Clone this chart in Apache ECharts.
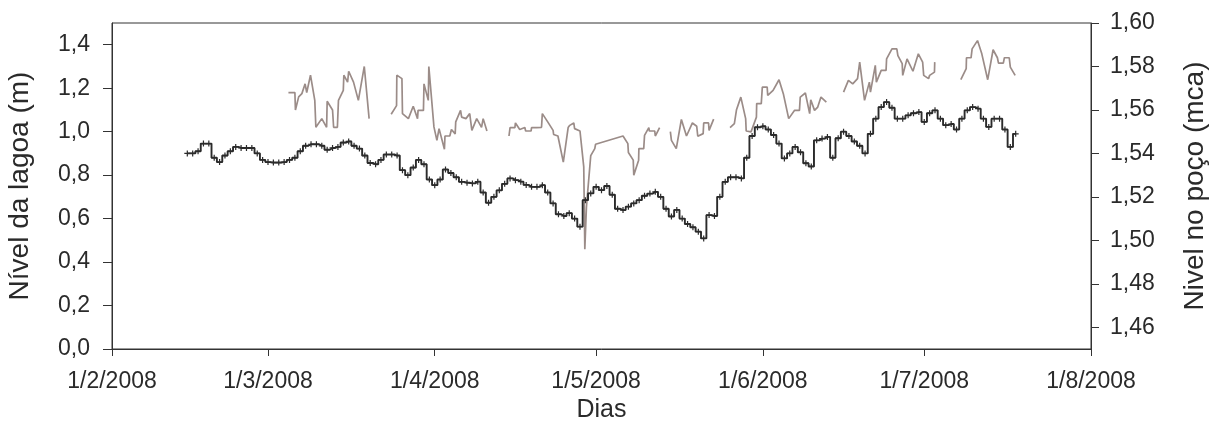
<!DOCTYPE html>
<html>
<head>
<meta charset="utf-8">
<script src="https://cdn.jsdelivr.net/npm/echarts@6/dist/echarts.min.js"></script>
<style>
html,body{margin:0;padding:0;background:#fff;}
#chart{width:1210px;height:443px;}
</style>
</head>
<body>
<div id="chart"></div>
<script>
// ---- data ----
// x axis: days after 1/2/2008, month-start ticks
var xTickLabels = ['1/2/2008','1/3/2008','1/4/2008','1/5/2008','1/6/2008','1/7/2008','1/8/2008'];
var leftTicks = [0, 0.2, 0.4, 0.6, 0.8, 1.0, 1.2, 1.4];
var rightTicks = [1.46, 1.48, 1.50, 1.52, 1.54, 1.56, 1.58, 1.60];

// Nível da lagoa (m) - daily values from 15/2/2008
var lagoonStartDay = 14; // days after 1/2/2008
var lagoonValues = [
0.90,0.90,0.91,0.945,0.945,0.88,0.86,0.89,0.91,0.93,
0.925,0.925,0.925,0.90,0.87,0.86,0.858,0.858,0.86,0.87,
0.88,0.91,0.935,0.942,0.942,0.935,0.917,0.925,0.93,0.95,
0.955,0.935,0.922,0.89,0.856,0.85,0.87,0.895,0.895,0.89,
0.823,0.80,0.835,0.87,0.85,0.78,0.754,0.78,0.826,0.81,
0.79,0.769,0.765,0.762,0.77,0.72,0.673,0.70,0.73,0.76,
0.785,0.777,0.77,0.755,0.746,0.746,0.754,0.72,0.67,0.62,
0.612,0.625,0.60,0.563,0.685,0.716,0.746,0.731,0.75,0.71,
0.645,0.639,0.655,0.67,0.685,0.705,0.715,0.723,0.70,0.645,
0.61,0.64,0.60,0.575,0.56,0.54,0.509,0.616,0.612,0.70,
0.769,0.79,0.79,0.785,0.88,0.98,1.02,1.025,1.01,0.985,
0.945,0.877,0.90,0.93,0.905,0.855,0.84,0.96,0.968,0.976,
0.88,0.97,1.0,0.98,0.955,0.935,0.90,0.99,1.06,1.113,
1.136,1.11,1.06,1.06,1.075,1.085,1.09,1.045,1.085,1.098,
1.06,1.03,1.035,1.01,1.06,1.098,1.113,1.106,1.06,1.022,
1.06,1.06,1.01,0.93,0.99
];

// Nivel no poço (mca) - day after 1/2/2008 and level (null = gap)
var wellDay = [
32.8,34.0,34.1,34.7,35.3,35.9,36.2,36.9,37.7,37.9,39.0,39.9,40.0,41.0,41.2,41.9,42.1,43.0,43.1,43.8,44.0,44.9,45.8,46.9,47.8,
49.8,
51.9,52.9,52.95,53.9,54.0,55.1,56.0,56.8,56.9,57.9,58.0,58.8,58.9,59.85,60.4,60.8,61.8,61.9,62.8,63.1,63.8,63.9,64.8,65.0,65.8,66.5,66.9,67.8,68.7,69.0,69.7,
71.7,
73.8,74.0,74.9,75.0,75.8,76.75,76.9,77.9,78.0,78.9,79.85,80.0,81.0,82.0,82.1,82.9,83.9,84.8,85.1,85.85,86.0,87.0,87.7,87.9,88.2,89.0,89.75,89.9,95.0,95.9,96.0,96.9,97.0,97.9,97.95,98.85,99.0,99.8,99.9,100.9,101.0,101.8,
102.8,
103.8,104.0,104.9,105.85,106.8,107.9,108.7,108.9,109.9,110.0,110.9,111.0,111.85,
113.4,
114.9,115.7,116.1,116.9,117.8,117.9,118.8,119.8,119.85,120.7,120.9,121.8,121.9,122.9,124.0,124.8,125.8,126.9,127.8,127.95,128.9,129.7,129.9,130.6,131.2,131.8,132.8,
134.4,
136.0,136.9,137.7,138.6,139.0,139.9,140.8,141.0,141.9,142.1,143.0,143.9,144.0,145.0,145.9,146.1,146.9,147.0,147.8,148.9,149.9,150.7,150.9,151.8,152.0,152.9,152.95,
155.4,
157.8,158.8,158.85,159.7,159.9,160.9,161.7,162.8,163.8,164.6,164.8,165.7,165.9,166.8,167.0,167.9
];
var wellLevel = [
1.568,1.568,1.560,1.566,1.5675,1.572,1.568,1.576,1.5644,1.552,1.556,1.552,1.564,1.560,1.552,1.552,1.5644,1.569,1.576,1.5728,1.5778,1.5728,1.5644,1.580,1.556,
null,
1.558,1.562,1.576,1.5744,1.5583,1.556,1.5617,1.556,1.5598,1.5598,1.572,1.5644,1.580,1.5522,1.546,1.5514,1.5419,1.548,1.548,1.551,1.549,1.5545,1.5598,1.5567,1.556,1.5583,1.5506,1.556,1.552,1.556,1.5503,
null,
1.548,1.5519,1.5519,1.554,1.551,1.5519,1.5503,1.5503,1.5519,1.5519,1.552,1.5583,1.5545,1.5506,1.5487,1.548,1.536,1.5519,1.5529,1.554,1.5514,1.5503,1.5338,1.4959,1.5154,1.539,1.5422,1.5442,1.548,1.5445,1.5404,1.5369,1.530,1.5369,1.5422,1.5422,1.5483,1.5519,1.5503,1.5503,1.548,1.5519,
null,
1.55,1.546,1.5422,1.5556,1.548,1.554,1.5525,1.5479,1.5491,1.554,1.554,1.5506,1.5558,
null,
1.5519,1.5537,1.5601,1.5659,1.556,1.5503,1.5499,1.5567,1.5629,1.5629,1.5705,1.5705,1.5667,1.569,1.5739,1.5675,1.556,1.5598,1.5598,1.5659,1.5678,1.5583,1.5647,1.5598,1.5613,1.5659,1.5636,
null,
1.5682,1.5736,1.572,1.5744,1.582,1.5644,1.5728,1.5682,1.5805,1.5728,1.5782,1.5782,1.5835,1.5881,1.5881,1.585,1.5813,1.5759,1.5835,1.5778,1.5858,1.582,1.5759,1.5744,1.5759,1.5774,1.582,
null,
1.5739,1.579,1.584,1.584,1.5881,1.5919,1.5858,1.5739,1.5877,1.584,1.5815,1.5815,1.584,1.584,1.5797,1.5759
];

// ---- build ----
var DAY = 86400000;
var t0 = Date.UTC(2008, 1, 1);
function labelToDay(s){ var p = s.split('/'); return Math.round((Date.UTC(+p[2], +p[1]-1, +p[0]) - t0) / DAY); }
var xTickDays = xTickLabels.map(labelToDay);

var lagoonData = lagoonValues.map(function(v, i){ return [lagoonStartDay + i, v]; });
var wellData = wellDay.map(function(d, i){ return [d, wellLevel[i] == null ? '-' : wellLevel[i]]; });

var txt = '#2a2a2a';
var axisCol = '#333333';
var font = 'Liberation Sans, Arial, Helvetica, sans-serif';

var chart = echarts.init(document.getElementById('chart'), null, {renderer: 'canvas'});
chart.setOption({
  animation: false,
  grid: {left: 112, right: 119, top: 23, bottom: 94, show: true, borderColor: axisCol, borderWidth: 1,
         backgroundColor: 'transparent', containLabel: false, outerBoundsMode: 'none'},
  xAxis: {
    type: 'value',
    min: xTickDays[0],
    max: xTickDays[xTickDays.length - 1],
    name: 'Dias',
    nameLocation: 'middle',
    nameGap: 44,
    nameTextStyle: {fontSize: 25, color: txt, fontFamily: font},
    axisLine: {show: true, lineStyle: {color: axisCol, width: 1}},
    axisTick: {show: true, length: 7, lineStyle: {color: axisCol}, customValues: xTickDays},
    splitLine: {show: false},
    axisLabel: {
      customValues: xTickDays,
      fontSize: 23, color: txt, fontFamily: font, margin: 21,
      formatter: function(v){ var i = xTickDays.indexOf(v); return i >= 0 ? xTickLabels[i] : ''; }
    }
  },
  yAxis: [{
    type: 'value', position: 'left', min: 0, max: 1.5,
    name: 'Nível da lagoa (m)', nameLocation: 'middle', nameGap: 78, nameRotate: 90,
    nameTextStyle: {fontSize: 28, color: txt, fontFamily: font},
    axisLine: {show: true, lineStyle: {color: axisCol}},
    axisTick: {show: true, length: 9, lineStyle: {color: axisCol}, customValues: leftTicks},
    splitLine: {show: false},
    axisLabel: {customValues: leftTicks, fontSize: 23, color: txt, fontFamily: font, margin: 22,
      formatter: function(v){ return v.toFixed(1).replace('.', ','); }}
  }, {
    type: 'value', position: 'right', min: 1.45, max: 1.60,
    name: 'Nivel no poço (mca)', nameLocation: 'middle', nameGap: 90, nameRotate: 90,
    nameTextStyle: {fontSize: 28, color: txt, fontFamily: font},
    axisLine: {show: true, lineStyle: {color: axisCol}},
    axisTick: {show: true, length: 8, lineStyle: {color: axisCol}, customValues: rightTicks},
    splitLine: {show: false},
    axisLabel: {customValues: rightTicks, fontSize: 23, color: txt, fontFamily: font, margin: 19,
      formatter: function(v){ return v.toFixed(2).replace('.', ','); }}
  }],
  series: [{
    name: 'Nivel no poço', type: 'line', yAxisIndex: 1, data: wellData,
    showSymbol: false, connectNulls: false,
    lineStyle: {color: '#9b8c88', width: 1.7}, itemStyle: {color: '#9b8c88'}
  }, {
    name: 'Nível da lagoa', type: 'line', yAxisIndex: 0, data: lagoonData,
    step: 'middle', symbol: 'path://M2,0H3V5H2Z M0,2H5V3H0Z', symbolSize: 6, showSymbol: true,
    lineStyle: {color: '#2b2b2b', width: 1.9}, itemStyle: {color: '#2b2b2b'}
  }]
});
</script>
</body>
</html>
